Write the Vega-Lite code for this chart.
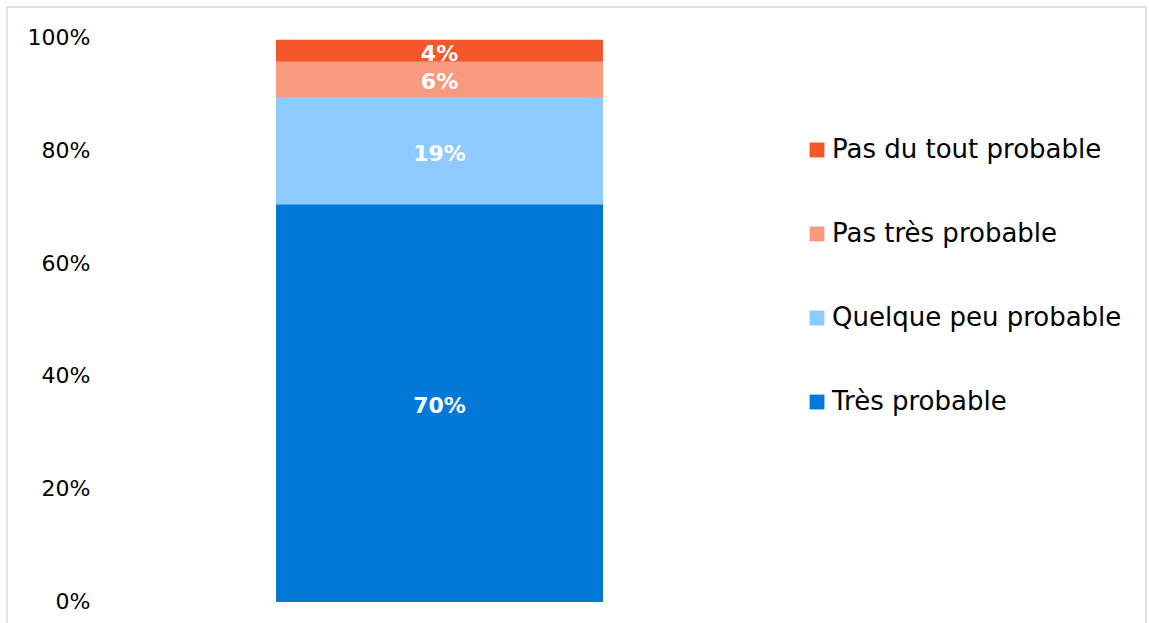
{
  "$schema": "https://vega.github.io/schema/vega-lite/v6.json",
  "width": 1139,
  "height": 623,
  "autosize": {"type": "none"},
  "padding": {"left": 7, "top": 7, "right": 3, "bottom": 0},
  "background": "white",
  "config": {
    "view": {"stroke": "#d9d9d9", "strokeWidth": 1.5},
    "font": "DejaVu Sans"
  },
  "data": {
    "values": [
      {"cat": "A", "category": "Très probable", "rank": 1, "value": 0.704},
      {"cat": "A", "category": "Quelque peu probable", "rank": 2, "value": 0.19},
      {"cat": "A", "category": "Pas très probable", "rank": 3, "value": 0.062},
      {"cat": "A", "category": "Pas du tout probable", "rank": 4, "value": 0.039}
    ]
  },
  "transform": [
    {"stack": "value", "groupby": ["cat"], "sort": [{"field": "rank", "order": "ascending"}], "as": ["v0", "v1"]},
    {"calculate": "(datum.v0 + datum.v1) / 2", "as": "mid"}
  ],
  "encoding": {
    "x": {
      "field": "cat",
      "type": "nominal",
      "axis": null,
      "scale": {"paddingInner": 0.1946, "paddingOuter": 1, "align": 0.3313}
    }
  },
  "layer": [
    {
      "mark": {"type": "bar"},
      "encoding": {
        "y": {
          "field": "v0",
          "type": "quantitative",
          "scale": {"domain": [-0.04956, 1.0531], "nice": false, "zero": false},
          "axis": {
            "values": [0, 0.2, 0.4, 0.6, 0.8, 1],
            "format": ".0%",
            "title": null,
            "domain": false,
            "ticks": false,
            "grid": false,
            "labelAlign": "right",
            "labelPadding": -83,
            "labelFontSize": 22,
            "labelColor": "#000000",
            "labelFont": "DejaVu Sans"
          }
        },
        "y2": {"field": "v1"},
        "color": {
          "field": "category",
          "type": "nominal",
          "scale": {
            "domain": ["Pas du tout probable", "Pas très probable", "Quelque peu probable", "Très probable"],
            "range": ["#F4572A", "#F79A80", "#8DCBFF", "#0078D7"]
          },
          "legend": {
            "title": null,
            "orient": "none",
            "legendX": 797,
            "legendY": 130,
            "symbolType": "square",
            "symbolSize": 220,
            "symbolStrokeWidth": 0,
            "symbolOpacity": 1,
            "labelFontSize": 26,
            "labelColor": "#000000",
            "labelFont": "DejaVu Sans",
            "labelOffset": 2,
            "rowPadding": 58,
            "labelLimit": 400
          }
        }
      }
    },
    {
      "mark": {"type": "text", "color": "white", "fontWeight": "bold", "fontSize": 22, "font": "DejaVu Sans", "baseline": "middle", "dy": 3},
      "encoding": {
        "y": {"field": "mid", "type": "quantitative"},
        "text": {"field": "value", "type": "quantitative", "format": ".0%"}
      }
    }
  ]
}
